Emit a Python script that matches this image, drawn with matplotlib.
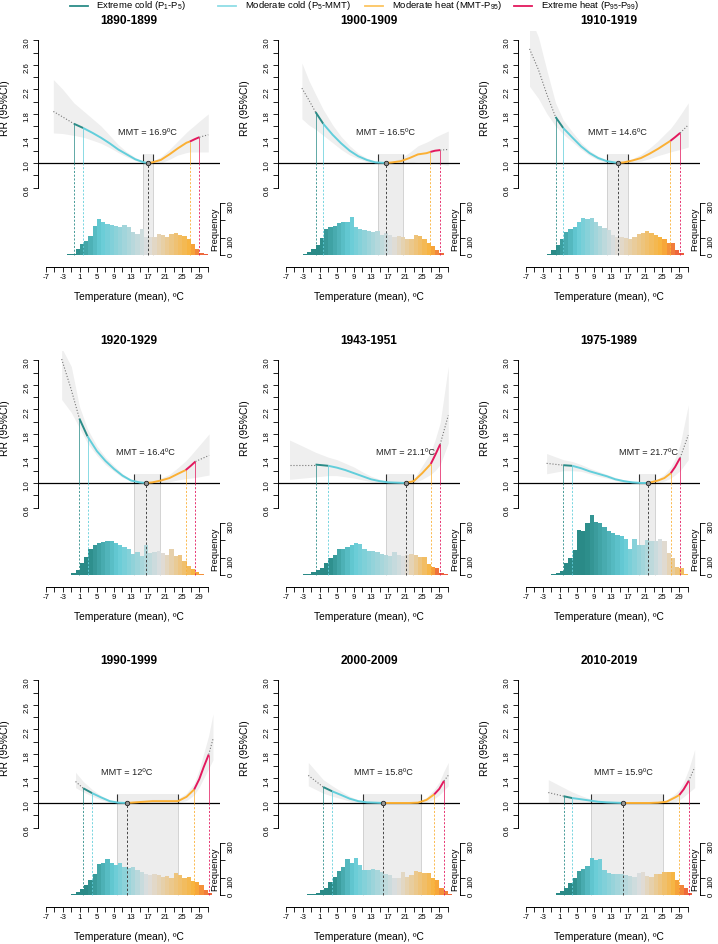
import numpy as np
import matplotlib.pyplot as plt
import matplotlib.transforms as mtransforms
from matplotlib.colors import to_rgb
from matplotlib.lines import Line2D

plt.rcParams['font.family'] = ['Liberation Sans', 'DejaVu Sans']
plt.rcParams['mathtext.fontset'] = 'custom'
plt.rcParams['mathtext.rm'] = 'Liberation Sans'

# ----------------------------
# Data
# ----------------------------
TITLES = ["1890-1899", "1900-1909", "1910-1919",
          "1920-1929", "1943-1951", "1975-1989",
          "1990-1999", "2000-2009", "2010-2019"]
MMT = [16.9, 16.5, 14.6, 16.4, 21.1, 21.7, 12.0, 15.8, 15.9]
MMT_LABELS = ["16.9", "16.5", "14.6", "16.4", "21.1", "21.7", "12", "15.8", "15.9"]
MMT_CI = [(15.7, 18.1), (14.7, 20.4), (12.1, 16.9), (13.8, 19.8), (16.4, 22.9),
          (19.5, 23.2), (9.8, 23.9), (11.2, 24.6), (8.3, 25.2)]
# P1, P5, P95, P99 of temperature
PCT = [(-0.4, 1.8, 26.8, 29.0), (0.0, 1.8, 26.9, 29.2), (0.0, 1.8, 26.9, 29.2),
       (0.9, 2.8, 25.8, 28.1), (0.0, 3.0, 27.0, 29.2), (1.8, 3.9, 27.0, 29.2),
       (1.8, 3.9, 27.8, 31.2), (1.8, 3.9, 27.8, 30.1), (1.9, 3.9, 29.0, 31.2)]

# exposure-response curves: temperature, RR, lower and upper 95% CI
T_1890 = [-5.2, -3, -0.4, 1.8, 4, 6, 8, 10, 12, 14, 16, 16.9, 18, 20, 22, 24, 26, 26.8, 28, 29.0, 31.1]
RR_1890 = [1.84, 1.75, 1.64, 1.57, 1.49, 1.41, 1.32, 1.22, 1.14, 1.06, 1.01, 1.0, 1.01, 1.05, 1.14, 1.24, 1.33, 1.35, 1.39, 1.42, 1.46]
LO_1890 = [1.49, 1.48, 1.45, 1.42, 1.37, 1.32, 1.25, 1.17, 1.10, 1.04, 1.0, 1.0, 0.99, 1.0, 1.06, 1.13, 1.17, 1.18, 1.18, 1.18, 1.18]
HI_1890 = [2.36, 2.2, 1.98, 1.85, 1.72, 1.6, 1.45, 1.3, 1.18, 1.09, 1.02, 1.0, 1.03, 1.1, 1.22, 1.36, 1.5, 1.55, 1.62, 1.68, 1.8]

T_1900 = [-3.2, -1.6, 0.0, 1.8, 4, 6, 8, 10, 12, 14, 16.5, 18, 20, 22, 24, 26, 26.9, 28, 29.2, 31.1]
RR_1900 = [2.22, 2.03, 1.83, 1.64, 1.46, 1.32, 1.20, 1.11, 1.05, 1.01, 1.0, 1.01, 1.03, 1.08, 1.14, 1.16, 1.18, 1.2, 1.21, 1.22]
LO_1900 = [1.72, 1.62, 1.55, 1.45, 1.33, 1.22, 1.13, 1.07, 1.02, 1.0, 1.0, 0.99, 0.98, 1.0, 1.02, 1.02, 1.01, 1.0, 0.98, 0.96]
HI_1900 = [2.63, 2.35, 2.12, 1.87, 1.62, 1.43, 1.28, 1.16, 1.08, 1.03, 1.0, 1.03, 1.08, 1.17, 1.28, 1.34, 1.37, 1.42, 1.46, 1.52]

T_1910 = [-6.1, -4, -2, 0.0, 1.8, 4, 6, 8, 10, 12, 14.6, 16, 18, 20, 22, 24, 26, 26.9, 28, 29.2, 31.1]
RR_1910 = [2.86, 2.52, 2.11, 1.75, 1.57, 1.41, 1.27, 1.16, 1.08, 1.03, 1.0, 1.01, 1.04, 1.08, 1.15, 1.23, 1.32, 1.36, 1.42, 1.49, 1.62]
LO_1910 = [2.25, 2.05, 1.8, 1.6, 1.47, 1.34, 1.22, 1.12, 1.05, 1.01, 1.0, 1.0, 1.01, 1.03, 1.07, 1.12, 1.16, 1.18, 1.2, 1.22, 1.26]
HI_1910 = [3.4, 3.05, 2.5, 1.98, 1.7, 1.5, 1.33, 1.2, 1.11, 1.05, 1.0, 1.02, 1.07, 1.14, 1.24, 1.36, 1.5, 1.56, 1.66, 1.78, 1.98]

T_1920 = [-3.25, -1, 0.9, 2.8, 5, 7, 9, 11, 13, 15, 16.4, 18, 20, 22, 24, 25.8, 27, 28.1, 31.3]
RR_1920 = [3.02, 2.52, 2.05, 1.76, 1.52, 1.36, 1.23, 1.12, 1.04, 1.01, 1.0, 1.01, 1.04, 1.08, 1.15, 1.21, 1.28, 1.35, 1.45]
LO_1920 = [2.36, 2.15, 1.9, 1.65, 1.45, 1.3, 1.19, 1.09, 1.03, 1.0, 1.0, 0.99, 1.0, 1.02, 1.05, 1.07, 1.08, 1.09, 1.13]
HI_1920 = [3.2, 2.9, 2.25, 1.88, 1.6, 1.42, 1.28, 1.15, 1.06, 1.02, 1.0, 1.03, 1.08, 1.14, 1.25, 1.36, 1.45, 1.54, 1.8]

T_1943 = [-6.1, -3, 0.0, 3.0, 5, 7, 9, 11, 13, 15, 17, 19, 21.1, 23, 25, 27.0, 28, 29.2, 31.1]
RR_1943 = [1.30, 1.30, 1.30, 1.28, 1.25, 1.21, 1.16, 1.11, 1.06, 1.03, 1.01, 1.005, 1.0, 1.03, 1.16, 1.31, 1.45, 1.63, 2.1]
LO_1943 = [1.06, 1.08, 1.1, 1.12, 1.12, 1.1, 1.08, 1.05, 1.02, 1.0, 0.99, 0.99, 1.0, 1.0, 1.06, 1.14, 1.2, 1.3, 1.65]
HI_1943 = [1.7, 1.6, 1.5, 1.42, 1.38, 1.32, 1.26, 1.18, 1.11, 1.06, 1.03, 1.01, 1.0, 1.06, 1.28, 1.5, 1.7, 1.98, 2.9]

T_1975 = [-2.1, 1.8, 3.9, 6, 8, 10, 12, 14, 16, 18, 20, 21.7, 24, 25.5, 27.0, 28, 29.2, 31.1]
RR_1975 = [1.32, 1.29, 1.28, 1.24, 1.19, 1.15, 1.11, 1.06, 1.03, 1.01, 1.0, 1.0, 1.04, 1.08, 1.16, 1.26, 1.41, 1.78]
LO_1975 = [1.15, 1.2, 1.2, 1.19, 1.15, 1.11, 1.08, 1.04, 1.01, 1.0, 1.0, 1.0, 1.0, 1.03, 1.08, 1.13, 1.2, 1.38]
HI_1975 = [1.48, 1.38, 1.35, 1.3, 1.24, 1.19, 1.14, 1.09, 1.05, 1.02, 1.0, 1.0, 1.07, 1.14, 1.26, 1.4, 1.63, 2.27]

T_1990 = [0.0, 1.8, 3.9, 6, 8, 10, 12, 14, 16, 18, 20, 22, 24, 26, 27.8, 29, 30, 31.2, 32.2]
RR_1990 = [1.35, 1.24, 1.16, 1.09, 1.03, 1.005, 1.0, 1.01, 1.02, 1.03, 1.03, 1.03, 1.03, 1.10, 1.22, 1.39, 1.58, 1.79, 2.04]
LO_1990 = [1.25, 1.18, 1.11, 1.05, 1.01, 1.0, 1.0, 1.0, 1.0, 1.0, 1.0, 1.0, 1.0, 1.04, 1.13, 1.26, 1.4, 1.56, 1.7]
HI_1990 = [1.5, 1.35, 1.22, 1.12, 1.05, 1.01, 1.0, 1.02, 1.04, 1.06, 1.06, 1.06, 1.07, 1.16, 1.32, 1.55, 1.8, 2.1, 2.45]

T_2000 = [-1.7, 1.8, 3.9, 6, 8, 10, 12, 14, 15.8, 18, 20, 22, 24, 26, 27.8, 29, 30.1, 31.1]
RR_2000 = [1.45, 1.26, 1.19, 1.13, 1.07, 1.03, 1.01, 1.005, 1.0, 1.0, 1.0, 1.0, 1.005, 1.05, 1.14, 1.23, 1.36, 1.45]
LO_2000 = [1.28, 1.16, 1.11, 1.07, 1.03, 1.01, 1.0, 1.0, 1.0, 0.99, 0.99, 0.99, 0.99, 1.01, 1.07, 1.13, 1.21, 1.28]
HI_2000 = [1.66, 1.38, 1.28, 1.19, 1.11, 1.05, 1.02, 1.01, 1.0, 1.01, 1.01, 1.01, 1.02, 1.09, 1.22, 1.34, 1.52, 1.66]

T_2010 = [-1.7, 1.9, 3.9, 6, 8, 10, 12, 15.9, 18, 20, 22, 24, 26, 28, 29.0, 30, 31.2, 32.6]
RR_2010 = [1.17, 1.11, 1.08, 1.06, 1.04, 1.02, 1.01, 1.0, 1.0, 1.0, 1.0, 1.005, 1.02, 1.09, 1.13, 1.22, 1.36, 1.58]
LO_2010 = [1.0, 1.02, 1.02, 1.02, 1.01, 1.0, 1.0, 1.0, 0.99, 0.99, 0.99, 0.99, 0.99, 1.02, 1.05, 1.1, 1.17, 1.25]
HI_2010 = [1.38, 1.25, 1.18, 1.12, 1.07, 1.04, 1.02, 1.0, 1.01, 1.01, 1.01, 1.02, 1.05, 1.15, 1.22, 1.34, 1.55, 1.87]

# daily temperature histograms: first bin (1 ºC wide) and counts
H0_1890 = -6
H_1890 = [2, 2, 3, 4, 8, 10, 34, 65, 84, 110, 167, 209, 190, 178, 171, 167, 160, 175, 163, 133, 121, 148, 102, 102, 106, 121, 114, 106, 121, 125, 114, 110, 95, 65, 38, 15, 8, 2]
H0_1900 = -4
H_1900 = [3, 6, 19, 34, 57, 99, 152, 160, 167, 182, 190, 190, 216, 160, 152, 144, 140, 133, 140, 118, 125, 114, 102, 110, 102, 91, 95, 114, 110, 95, 72, 53, 30, 11, 4]
H0_1910 = -7
H_1910 = [2, 2, 3, 3, 4, 6, 30, 61, 91, 133, 148, 160, 190, 213, 209, 213, 190, 167, 156, 144, 114, 102, 102, 99, 95, 106, 121, 129, 137, 125, 114, 102, 95, 72, 72, 30, 15, 4, 4]
H0_1920 = -2
H_1920 = [4, 13, 29, 71, 105, 147, 170, 182, 189, 193, 197, 185, 170, 163, 147, 124, 132, 109, 170, 128, 132, 136, 128, 113, 151, 109, 117, 82, 55, 33, 17, 6, 2]
H0_1943 = -4
H_1943 = [4, 6, 10, 21, 29, 44, 71, 101, 117, 147, 147, 159, 170, 182, 178, 151, 140, 140, 132, 124, 113, 109, 132, 117, 109, 117, 124, 117, 105, 105, 63, 48, 40, 13, 6]
H0_1975 = -2
H_1975 = [4, 6, 13, 25, 71, 98, 143, 258, 250, 300, 346, 302, 300, 273, 250, 239, 231, 224, 205, 151, 205, 174, 170, 201, 193, 197, 205, 193, 128, 101, 48, 40, 6]
H0_1990 = -1
H_1990 = [7, 19, 37, 59, 85, 122, 178, 185, 207, 185, 170, 181, 163, 156, 163, 144, 133, 122, 115, 122, 115, 104, 107, 100, 126, 115, 96, 104, 81, 78, 56, 30, 11, 4]
H0_2000 = -3
H_2000 = [4, 7, 7, 15, 30, 41, 74, 104, 141, 163, 204, 181, 215, 174, 144, 144, 152, 144, 130, 119, 115, 96, 96, 130, 104, 115, 141, 130, 126, 126, 100, 85, 44, 22, 7]
H0_2010 = -2
H_2010 = [2, 4, 11, 22, 44, 70, 96, 141, 152, 167, 211, 200, 204, 144, 126, 122, 122, 119, 115, 111, 104, 126, 133, 107, 104, 119, 119, 130, 133, 130, 89, 56, 41, 11, 4]

# ----------------------------
# Styles
# ----------------------------
C_EXT_COLD = "#2b8c88"
C_MOD_COLD = "#62cedb"
C_MOD_HEAT = "#fbb034"
C_EXT_HEAT = "#e3185d"
GRAD_COLORS = ["#2a8a87", "#66ccd7", "#dedede", "#f8b23a", "#ec5b3b"]
# where the histogram gradient passes through each colour (ºC)
GRAD_STOPS = [(0, 6, 17, 27, 30), (1, 8, 18, 27, 30), (0, 5, 14, 25, 29),
              (3, 10, 20, 28, 32), (3, 9, 21, 27, 29), (7, 16, 25, 31, 34),
              (3, 9, 17, 28, 32), (4, 9, 19, 28, 32), (4, 9, 20, 28, 31)]

PANELS = [
    (T_1890, RR_1890, LO_1890, HI_1890, H0_1890, H_1890),
    (T_1900, RR_1900, LO_1900, HI_1900, H0_1900, H_1900),
    (T_1910, RR_1910, LO_1910, HI_1910, H0_1910, H_1910),
    (T_1920, RR_1920, LO_1920, HI_1920, H0_1920, H_1920),
    (T_1943, RR_1943, LO_1943, HI_1943, H0_1943, H_1943),
    (T_1975, RR_1975, LO_1975, HI_1975, H0_1975, H_1975),
    (T_1990, RR_1990, LO_1990, HI_1990, H0_1990, H_1990),
    (T_2000, RR_2000, LO_2000, HI_2000, H0_2000, H_2000),
    (T_2010, RR_2010, LO_2010, HI_2010, H0_2010, H_2010),
]

# panel geometry (pixels) and the two stacked scales
W, H = 718, 944
AX_W, AX_H = 182, 235.6
RR_BOT, RR_TOP = -0.691, 3.15
BASE_RR = -0.505          # where frequency 0 sits on the RR scale
RR_PER_COUNT = 0.002864
F_BOT = (RR_BOT - BASE_RR) / RR_PER_COUNT
F_TOP = (RR_TOP - BASE_RR) / RR_PER_COUNT
F_ONE = (1.0 - BASE_RR) / RR_PER_COUNT
BOX_TOP = 1.15
TICK_FS = 5.6
LAB_FS = 7.4

fig = plt.figure(figsize=(W / 100, H / 100), dpi=100)
grad_rgb = np.array([to_rgb(c) for c in GRAD_COLORS])

for i, (temp, rr, lo, hi, h0, counts) in enumerate(PANELS):
    row, col = divmod(i, 3)
    left = 38 + 240 * col
    top = 31.1 + 320 * row
    ax = fig.add_axes([left / W, 1 - (top + AX_H) / H, AX_W / W, AX_H / H])
    ax.set_xlim(-8.8, 33.85)
    ax.set_ylim(RR_BOT, RR_TOP)
    ax.patch.set_visible(False)

    temp = np.array(temp)
    rr = np.array(rr)
    p1, p5, p95, p99 = PCT[i]
    mmt = MMT[i]
    ci_a, ci_b = MMT_CI[i]

    # CI band and MMT confidence box
    ax.fill_between(temp, lo, hi, color="#efefef", lw=0, zorder=1)
    ax.fill_between([ci_a, ci_b], BASE_RR, BOX_TOP, color="#e9e9e9", alpha=0.8, lw=0, zorder=1.5)
    ax.vlines([ci_a, ci_b], 1.0, BOX_TOP, color="#333333", lw=0.8, zorder=2)
    ax.vlines([ci_a, ci_b], BASE_RR, 1.0, color="#cccccc", lw=0.6, zorder=2)
    ax.axhline(1.0, color="black", lw=0.9, zorder=3)

    # curve, coloured by temperature range
    segs = [(temp[0], p1, "#777777", ":", 0.8), (p1, p5, C_EXT_COLD, "-", 1.4),
            (p5, mmt, C_MOD_COLD, "-", 1.4), (mmt, p95, C_MOD_HEAT, "-", 1.4),
            (p95, p99, C_EXT_HEAT, "-", 1.4), (p99, temp[-1], "#777777", ":", 0.8)]
    for a, b, c, ls, lw in segs:
        m = (temp >= a - 1e-9) & (temp <= b + 1e-9)
        ax.plot(temp[m], rr[m], color=c, ls=ls, lw=lw, zorder=4, solid_capstyle="butt")

    pcols = [C_EXT_COLD, C_MOD_COLD, C_MOD_HEAT, C_EXT_HEAT]
    for pv, c in zip(PCT[i], pcols):
        y = rr[np.isclose(temp, pv)][0]
        ax.vlines(pv, 1.0, y, color=c, lw=0.7, alpha=0.75, zorder=3.5)

    ax.text(mmt, 1.5, "MMT = %sºC" % MMT_LABELS[i], ha="center", va="center",
            fontsize=6.6, color="#222222", zorder=6)

    # axes in R style
    for s in ["top", "right"]:
        ax.spines[s].set_visible(False)
    ax.spines["left"].set_bounds(0.6, 3.0)
    ax.spines["bottom"].set_bounds(-7, 31)
    for s in ["left", "bottom"]:
        ax.spines[s].set_linewidth(0.7)
    yt = np.round(np.arange(0.6, 3.01, 0.2), 1)
    ax.set_yticks(yt, ["%.1f" % v if abs((v - 0.6) / 0.4 - round((v - 0.6) / 0.4)) < 1e-6 else "" for v in yt])
    xt = list(range(-7, 32, 2))
    ax.set_xticks(xt, [str(v) if (v + 7) % 4 == 0 else "" for v in xt])
    ax.tick_params(axis="both", length=3.5, width=0.6, labelsize=TICK_FS, pad=2)
    ax.tick_params(axis="y", labelrotation=90)

    ax.text(0.5, 1 + (31.1 - 20.5) / AX_H, TITLES[i], transform=ax.transAxes,
            ha="center", va="center", fontsize=8.6, fontweight="bold")
    ax.text(0.5, -30 / AX_H, "Temperature (mean), ºC", transform=ax.transAxes,
            ha="center", va="center", fontsize=LAB_FS)
    ax.text(-33 / AX_W, 1.9, "RR (95%CI)", transform=mtransforms.blended_transform_factory(ax.transAxes, ax.transData),
            ha="center", va="center", rotation=90, fontsize=LAB_FS)

    # histogram on its own frequency scale
    ax2 = ax.twinx()
    ax2.set_ylim(F_BOT, F_TOP)
    edges = h0 + np.arange(len(counts))
    centers = edges + 0.5
    cols = np.column_stack([np.interp(centers, GRAD_STOPS[i], grad_rgb[:, k]) for k in range(3)])
    ax2.bar(edges, counts, width=1.0, align="edge", color=cols, lw=0, zorder=2)
    ax2.vlines(PCT[i], 0, F_ONE, colors=pcols, linestyles=(0, (2.5, 2)), lw=0.6, zorder=3)
    ax2.vlines(mmt, 0, F_ONE, colors="#444444", linestyles=(0, (2.5, 2)), lw=0.7, zorder=3)
    ax2.plot(mmt, F_ONE, "o", ms=3.2, mfc="#9a9a9a", mec="#222222", mew=0.6, zorder=6)

    for s in ["top", "left", "bottom"]:
        ax2.spines[s].set_visible(False)
    ax2.spines["right"].set_bounds(0, 300)
    ax2.spines["right"].set_linewidth(0.7)
    ax2.set_yticks([0, 100, 200, 300], ["0", "100", "", "300"])
    ax2.tick_params(axis="y", length=3.5, width=0.6, labelsize=TICK_FS, pad=2, labelrotation=90)
    ax2.text((215 - 38) / AX_W, 150, "Frequency", rotation=90, ha="center", va="center",
             fontsize=6.6, transform=mtransforms.blended_transform_factory(ax2.transAxes, ax2.transData))

# ----------------------------
# Legend along the top
# ----------------------------
leg_labels = ["Extreme cold (P$_\\mathregular{1}$-P$_\\mathregular{5}$)",
              "Moderate cold (P$_\\mathregular{5}$-MMT)",
              "Moderate heat (MMT-P$_\\mathregular{95}$)",
              "Extreme heat (P$_\\mathregular{95}$-P$_\\mathregular{99}$)"]
leg_cols = [C_EXT_COLD, "#8fdde6", "#fcc561", C_EXT_HEAT]
leg_x = [96.5, 245, 392, 541]
for x, lab, c in zip(leg_x, leg_labels, leg_cols):
    fig.add_artist(Line2D([(x - 27) / W, (x - 9) / W], [1 - 5.5 / H, 1 - 5.5 / H],
                          color=c, lw=1.3))
    fig.text(x / W, 1 - 5.5 / H, lab, ha="left", va="center", fontsize=6.8)

plt.savefig("out.png", dpi=100)
